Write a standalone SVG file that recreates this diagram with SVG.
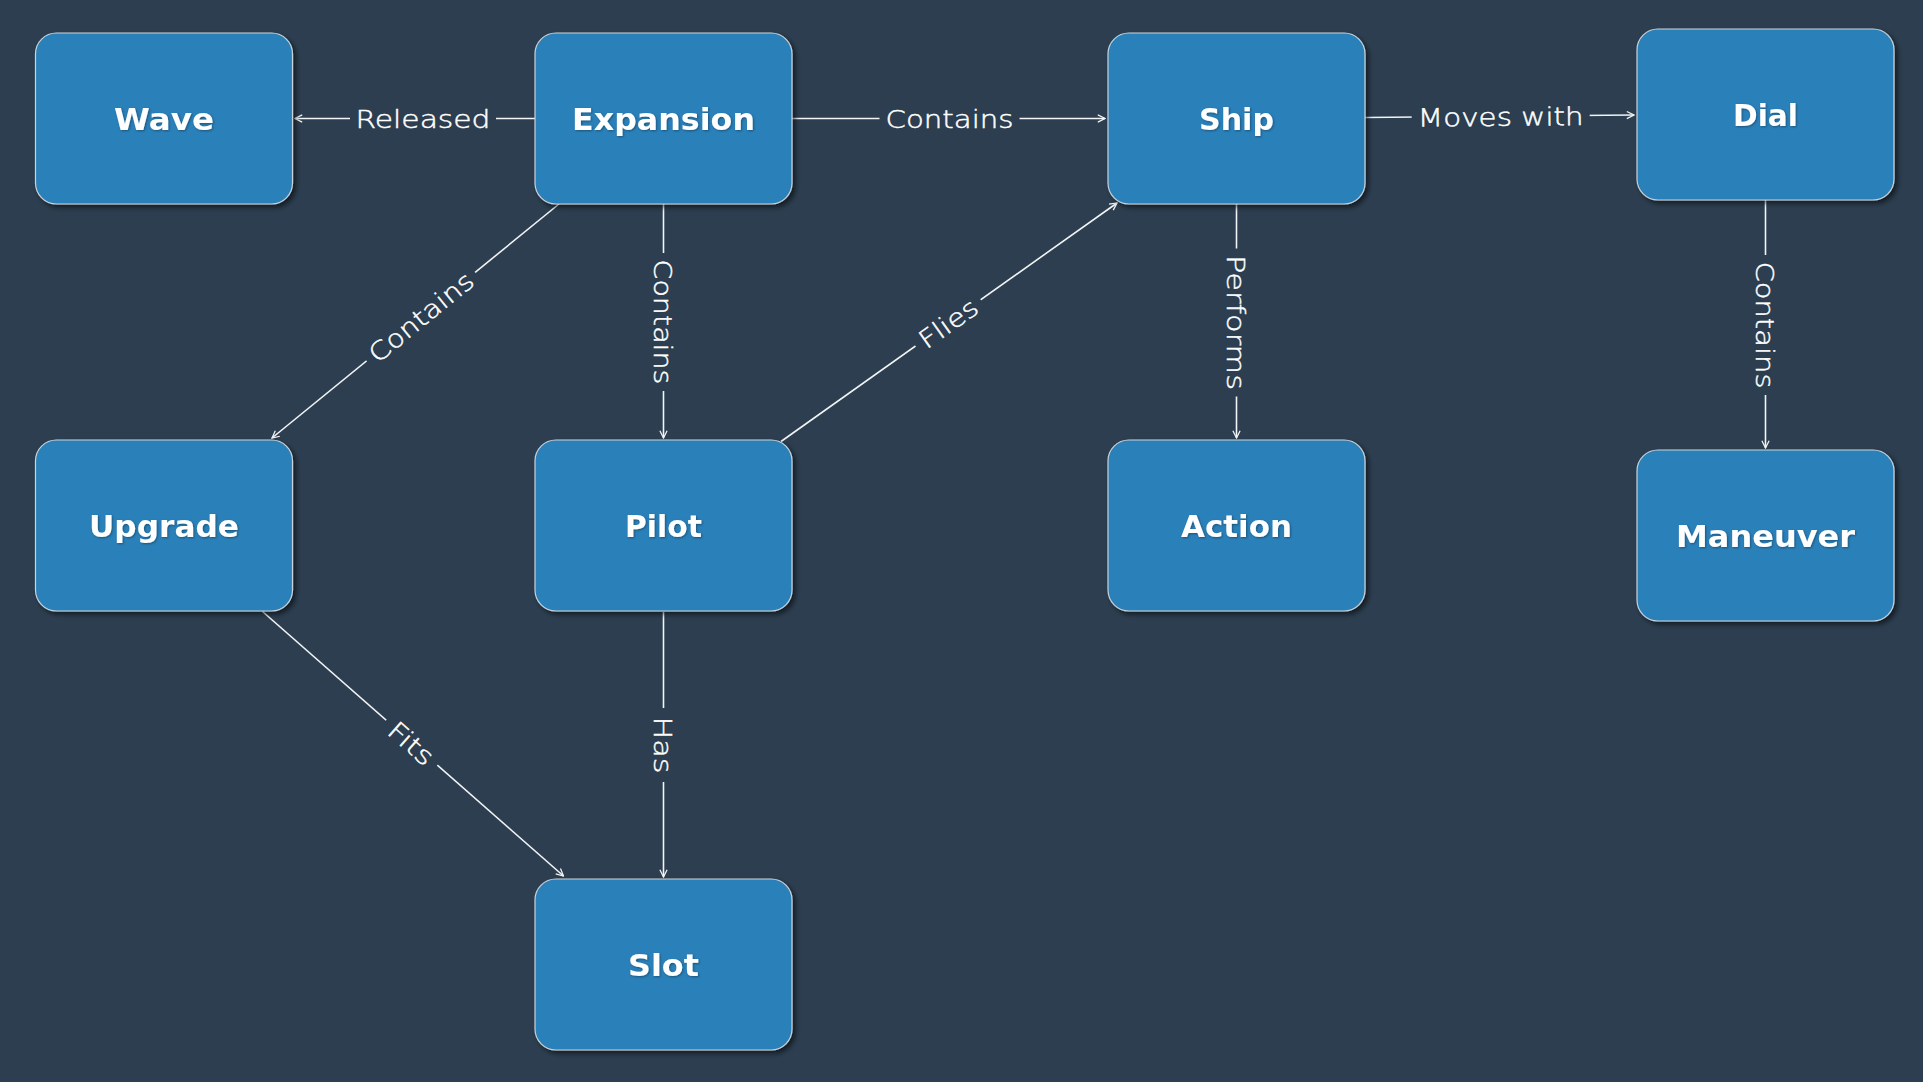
<svg xmlns="http://www.w3.org/2000/svg" width="1923" height="1082" viewBox="0 0 1923 1082">
<style>
.node rect{fill:#2980b9;stroke:#c9d3da;stroke-width:1.2;filter:url(#sh)}
.node text{font-family:"DejaVu Sans","Liberation Sans",sans-serif;font-weight:bold;font-size:31px;fill:#ffffff;text-anchor:middle;filter:url(#tsh)}
.edge{stroke:#f2f4f5;stroke-width:1.6;fill:none;marker-end:url(#arr)}
.lbl rect{fill:#2c3e50}
.lbl text{font-family:"DejaVu Sans","Liberation Sans",sans-serif;font-weight:200;font-size:25px;fill:#ffffff;stroke:#ffffff;stroke-width:0.45;text-anchor:middle}
</style>
<defs>
<filter id="sh" x="-10%" y="-10%" width="125%" height="125%">
<feDropShadow dx="3" dy="3" stdDeviation="2.5" flood-color="#000" flood-opacity="0.55"/>
</filter>
<filter id="tsh" x="-10%" y="-20%" width="125%" height="150%">
<feDropShadow dx="1" dy="1" stdDeviation="1" flood-color="#000" flood-opacity="0.35"/>
</filter>
<marker id="arr" viewBox="0 0 10 10" refX="9" refY="5" markerWidth="9" markerHeight="9" markerUnits="userSpaceOnUse" orient="auto">
<path d="M1,1 L9,5 L1,9" fill="none" stroke="#f2f4f5" stroke-width="1.4"/>
</marker>
</defs>
<rect width="1923" height="1082" fill="#2c3e50"/>

<g id="connectors">
<path class="edge" d="M535,118.5 L295,118.5"/>
<path class="edge" d="M792,118.5 L1105,118.5"/>
<path class="edge" d="M1365,117.5 L1634,115"/>
<path class="edge" d="M559,204 L272,438"/>
<path class="edge" d="M663.5,204 L663.5,438"/>
<path class="edge" d="M781,441.5 L1117,203"/>
<path class="edge" d="M1236.5,204 L1236.5,438"/>
<path class="edge" d="M1765.5,200 L1765.5,448"/>
<path class="edge" d="M262.5,611.5 L563.5,876"/>
<path class="edge" d="M663.5,612 L663.5,877"/>

<g class="lbl" transform="translate(423,118.5)"><rect x="-73" y="-10" width="146" height="20"/><text x="0" y="9.5" textLength="135" lengthAdjust="spacingAndGlyphs">Released</text></g>
<g class="lbl" transform="translate(949.5,118.5)"><rect x="-70" y="-10" width="140" height="20"/><text x="0" y="9.5" textLength="128" lengthAdjust="spacingAndGlyphs">Contains</text></g>
<g class="lbl" transform="translate(1500.7,116.3) rotate(-0.5)"><rect x="-89" y="-10" width="178" height="20"/><text x="0" y="9.5" textLength="166" lengthAdjust="spacingAndGlyphs">Moves with</text></g>
<g class="lbl" transform="translate(420.7,316.6) rotate(-39.2)"><rect x="-70" y="-10" width="140" height="20"/><text x="0" y="9.5" textLength="127" lengthAdjust="spacingAndGlyphs">Contains</text></g>
<g class="lbl" transform="translate(663.5,322) rotate(90)"><rect x="-69" y="-10" width="138" height="20"/><text x="0" y="9.5" textLength="125" lengthAdjust="spacingAndGlyphs">Contains</text></g>
<g class="lbl" transform="translate(948,322.8) rotate(-35.4)"><rect x="-40" y="-10" width="80" height="20"/><text x="0" y="9.5" textLength="66" lengthAdjust="spacingAndGlyphs">Flies</text></g>
<g class="lbl" transform="translate(1236.5,322.5) rotate(90)"><rect x="-74" y="-10" width="148" height="20"/><text x="0" y="9.5" textLength="135" lengthAdjust="spacingAndGlyphs">Performs</text></g>
<g class="lbl" transform="translate(1765.5,325) rotate(90)"><rect x="-70" y="-10" width="140" height="20"/><text x="0" y="9.5" textLength="127" lengthAdjust="spacingAndGlyphs">Contains</text></g>
<g class="lbl" transform="translate(411.5,743) rotate(41.3)"><rect x="-34" y="-10" width="68" height="20"/><text x="0" y="9.5" textLength="52" lengthAdjust="spacingAndGlyphs">Fits</text></g>
<g class="lbl" transform="translate(663.5,745) rotate(90)"><rect x="-37" y="-10" width="74" height="20"/><text x="0" y="9.5" textLength="57" lengthAdjust="spacingAndGlyphs">Has</text></g>
</g>

<g id="node-wave" class="node"><rect x="35.5" y="33" width="257" height="171" rx="21"/><text x="164" y="130" textLength="100" lengthAdjust="spacingAndGlyphs">Wave</text></g>
<g id="node-expansion" class="node"><rect x="535" y="33" width="257" height="171" rx="21"/><text x="663.5" y="130" textLength="183" lengthAdjust="spacingAndGlyphs">Expansion</text></g>
<g id="node-ship" class="node"><rect x="1108" y="33" width="257" height="171" rx="21"/><text x="1236.5" y="130" textLength="75" lengthAdjust="spacingAndGlyphs">Ship</text></g>
<g id="node-dial" class="node"><rect x="1637" y="29" width="257" height="171" rx="21"/><text x="1765.5" y="126" textLength="65" lengthAdjust="spacingAndGlyphs">Dial</text></g>
<g id="node-upgrade" class="node"><rect x="35.5" y="440" width="257" height="171" rx="21"/><text x="164" y="537" textLength="150" lengthAdjust="spacingAndGlyphs">Upgrade</text></g>
<g id="node-pilot" class="node"><rect x="535" y="440" width="257" height="171" rx="21"/><text x="663.5" y="537" textLength="77" lengthAdjust="spacingAndGlyphs">Pilot</text></g>
<g id="node-action" class="node"><rect x="1108" y="440" width="257" height="171" rx="21"/><text x="1236.5" y="537" textLength="111" lengthAdjust="spacingAndGlyphs">Action</text></g>
<g id="node-maneuver" class="node"><rect x="1637" y="450" width="257" height="171" rx="21"/><text x="1765.5" y="547" textLength="179" lengthAdjust="spacingAndGlyphs">Maneuver</text></g>
<g id="node-slot" class="node"><rect x="535" y="879" width="257" height="171" rx="21"/><text x="663.5" y="976" textLength="71" lengthAdjust="spacingAndGlyphs">Slot</text></g>
</svg>
